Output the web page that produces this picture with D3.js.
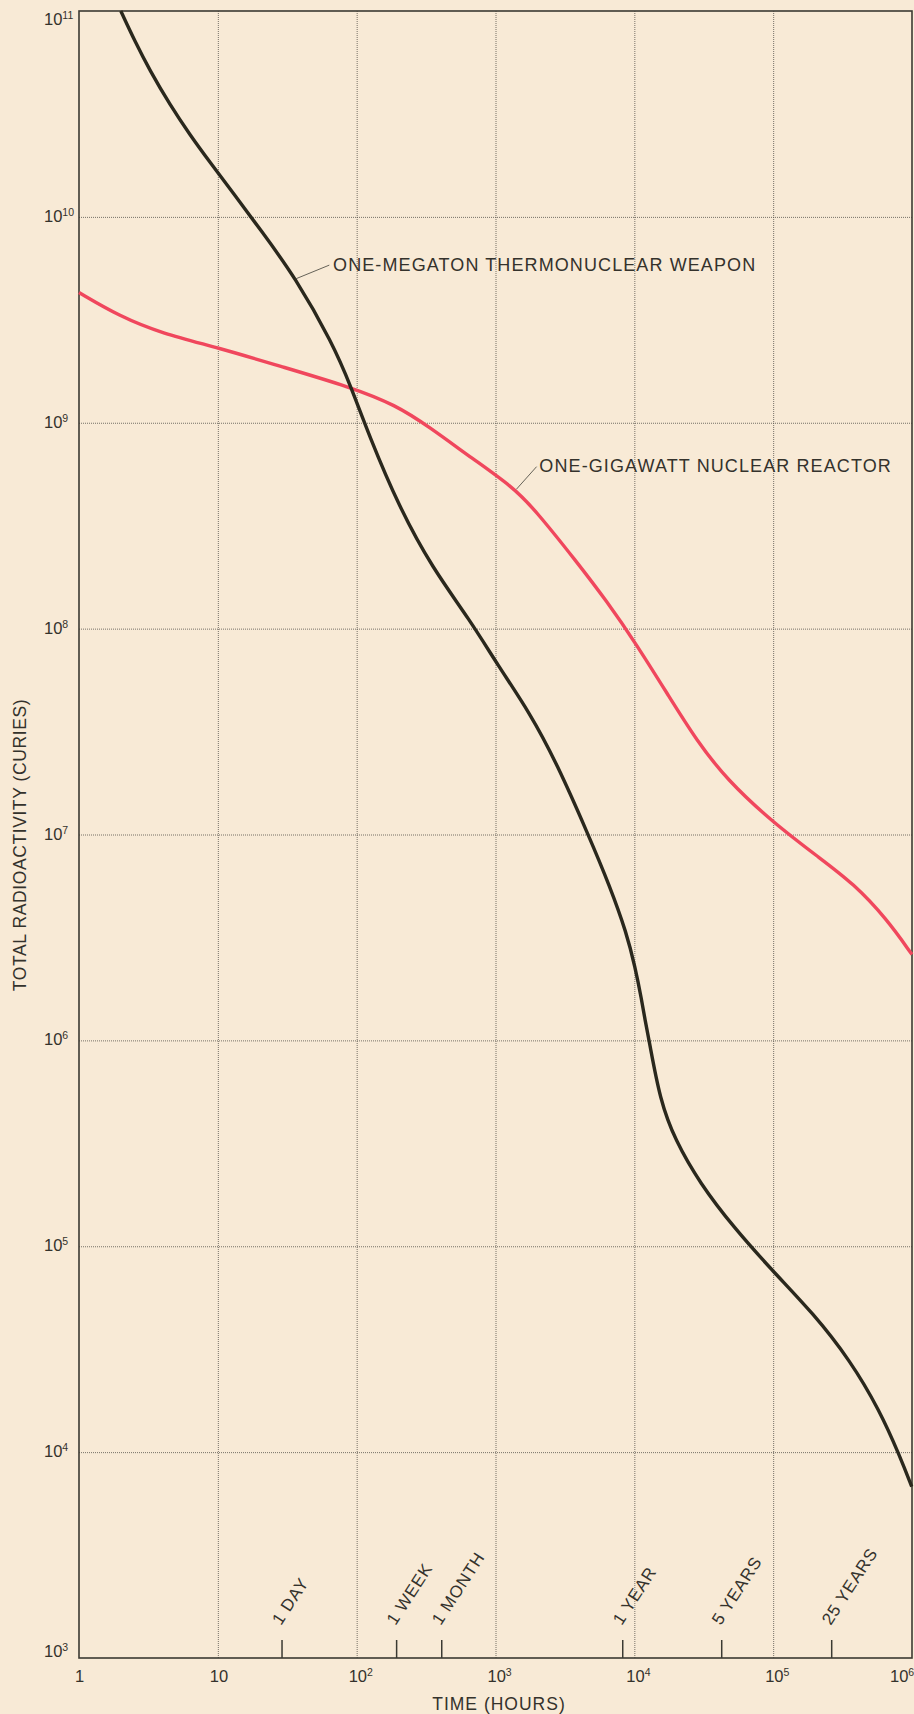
<!DOCTYPE html>
<html>
<head>
<meta charset="utf-8">
<script src="https://cdn.jsdelivr.net/npm/d3@7"></script>
<style>
  html, body { margin: 0; padding: 0; background: #f8ead6; }
  svg { display: block; }
  text { font-family: "Liberation Sans", Arial, Helvetica, sans-serif; fill: #34322c; }
</style>
</head>
<body>
<div id="chart"></div>
<script>
// one-megaton thermonuclear weapon: hours after detonation / curies
const weaponHours = [2.0, 2.53, 3.25, 4.52, 6.3, 8.78, 13.3, 20.1, 36.4, 66.8, 90.6, 123, 202,
  351, 655, 1038, 1774, 2761, 4667, 6683, 8810, 10110, 11300, 11930, 12820, 15310, 19630, 29720,
  51640, 100200, 194500, 357300, 583400, 820400, 995400];
const weaponCuries = [1e11, 7.11e10, 5.12e10, 3.5e10, 2.5e10, 1.84e10, 1.27e10, 8.73e9,
  5.05e9, 2.44e9, 1.51e9, 8.65e8, 3.9e8, 1.97e8, 1.1e8, 6.65e7, 3.88e7, 2.22e7, 9.95e6, 5.58e6,
  3.31e6, 2.28e6, 1.57e6, 1.26e6, 9.87e5, 5.13e5, 3.28e5, 2.02e5, 1.24e5, 7.52e4, 4.72e4, 2.8e4,
  1.6e4, 9.5e3, 6.8e3];

// one-gigawatt nuclear reactor: hours after shutdown / curies
const reactorHours = [1, 1.94, 3.98, 10.2, 27.5, 90.6, 191, 332, 681, 1318, 1914, 3846, 6324, 10230,
  18100, 28120, 46240, 100200, 217300, 377600, 657700, 1e6];
const reactorCuries = [4.29e9, 3.3e9, 2.71e9, 2.31e9, 1.89e9, 1.49e9, 1.22e9, 9.57e8, 6.7e8, 4.9e8,
  3.8e8, 2.11e8, 1.36e8, 8.5e7, 4.59e7, 2.86e7, 1.85e7, 1.14e7, 7.67e6, 5.79e6, 3.89e6, 2.61e6];

const xDecades = [1, 10, 1e2, 1e3, 1e4, 1e5, 1e6];
const yDecades = [1e3, 1e4, 1e5, 1e6, 1e7, 1e8, 1e9, 1e10, 1e11];

const markerLabels = ["1 DAY", "1 WEEK", "1 MONTH", "1 YEAR", "5 YEARS", "25 YEARS"];
const markerHours = [29, 194, 410, 8250, 42600, 264000];

const width = 914, height = 1714;
const margin = { top: 11, right: 2, bottom: 56, left: 79 };

const svg = d3.select("#chart")
  .append("svg")
  .attr("width", width)
  .attr("height", height);

svg.append("rect")
  .attr("width", width)
  .attr("height", height)
  .attr("fill", "#f8ead6");

const x = d3.scaleLog()
  .domain([1, 1e6])
  .range([margin.left, width - margin.right]);

const y = d3.scaleLog()
  .domain([1e3, 1e11])
  .range([height - margin.bottom, margin.top]);

const plotTop = y(1e11), plotBottom = y(1e3);
const plotLeft = x(1), plotRight = x(1e6);

// gridlines
svg.append("g")
  .attr("class", "grid-x")
  .attr("transform", `translate(0,${plotBottom})`)
  .call(d3.axisBottom(x).tickValues(xDecades.slice(1, -1)).tickSize(-(plotBottom - plotTop)).tickFormat(""))
  .call(g => g.select(".domain").remove());

svg.append("g")
  .attr("class", "grid-y")
  .attr("transform", `translate(${plotLeft},0)`)
  .call(d3.axisLeft(y).tickValues(yDecades.slice(1, -1)).tickSize(-(plotRight - plotLeft)).tickFormat(""))
  .call(g => g.select(".domain").remove());

svg.selectAll(".grid-x line, .grid-y line")
  .attr("stroke", "#54514a")
  .attr("stroke-width", 0.8)
  .attr("stroke-dasharray", "1,1");

// frame
svg.append("rect")
  .attr("x", plotLeft)
  .attr("y", plotTop)
  .attr("width", plotRight - plotLeft)
  .attr("height", plotBottom - plotTop)
  .attr("fill", "none")
  .attr("stroke", "#3b3a33")
  .attr("stroke-width", 1.6);

// tick labels written as powers of ten
function powerLabel(sel, v) {
  const p = Math.round(Math.log10(v));
  if (p === 0) { sel.append("tspan").text("1"); return; }
  if (p === 1) { sel.append("tspan").text("10"); return; }
  sel.append("tspan").text("10");
  sel.append("tspan").attr("dy", -6).attr("font-size", 10.5).text(p);
}

svg.append("g")
  .selectAll("text")
  .data(yDecades)
  .join("text")
  .attr("x", 44)
  .attr("y", d => y(d) + (d === 1e11 ? 14 : d === 1e3 ? -1 : 5))
  .attr("font-size", 16.5)
  .each(function (d) { powerLabel(d3.select(this), d); });

svg.append("g")
  .selectAll("text")
  .data(xDecades)
  .join("text")
  .attr("x", d => d === 1 ? x(d) - 4 : d === 1e6 ? x(d) - 22 : x(d) - 8)
  .attr("y", plotBottom + 24)
  .attr("font-size", 16.5)
  .each(function (d) { powerLabel(d3.select(this), d); });

// time markers along the bottom
svg.append("g")
  .selectAll("line")
  .data(markerHours)
  .join("line")
  .attr("x1", d => x(d))
  .attr("x2", d => x(d))
  .attr("y1", plotBottom)
  .attr("y2", plotBottom - 18)
  .attr("stroke", "#3b3a33")
  .attr("stroke-width", 1.5);

svg.append("g")
  .selectAll("text")
  .data(markerHours)
  .join("text")
  .attr("transform", d => `translate(${x(d) - 1},${plotBottom - 32}) rotate(-57)`)
  .attr("font-size", 17)
  .attr("letter-spacing", 0.8)
  .text((d, i) => markerLabels[i]);

// curves
const line = d3.line()
  .x(d => x(d[0]))
  .y(d => y(d[1]))
  .curve(d3.curveBasis);

svg.append("path")
  .datum(reactorHours.map((h, i) => [h, reactorCuries[i]]))
  .attr("fill", "none")
  .attr("stroke", "#f0475d")
  .attr("stroke-width", 3.4)
  .attr("d", line);

svg.append("path")
  .datum(weaponHours.map((h, i) => [h, weaponCuries[i]]))
  .attr("fill", "none")
  .attr("stroke", "#2a281d")
  .attr("stroke-width", 3.4)
  .attr("d", line);

// curve labels with leader lines
const notes = [
  { text: "ONE-MEGATON THERMONUCLEAR WEAPON", from: [36.4, 5.0e9], to: [63.5, 5.83e9], at: [67.6, 5.47e9] },
  { text: "ONE-GIGAWATT NUCLEAR REACTOR", from: [1413, 4.75e8], to: [1977, 6.12e8], at: [2070, 5.74e8] }
];

svg.append("g")
  .selectAll("line")
  .data(notes)
  .join("line")
  .attr("x1", d => x(d.from[0]))
  .attr("y1", d => y(d.from[1]))
  .attr("x2", d => x(d.to[0]))
  .attr("y2", d => y(d.to[1]))
  .attr("stroke", "#55524a")
  .attr("stroke-width", 0.9);

svg.append("g")
  .selectAll("text")
  .data(notes)
  .join("text")
  .attr("x", d => x(d.at[0]))
  .attr("y", d => y(d.at[1]))
  .attr("font-size", 18)
  .attr("letter-spacing", 1.1)
  .text(d => d.text);

// axis titles
svg.append("text")
  .attr("x", 499)
  .attr("y", 1710)
  .attr("text-anchor", "middle")
  .attr("font-size", 17.5)
  .attr("letter-spacing", 1)
  .text("TIME (HOURS)");

svg.append("text")
  .attr("transform", "translate(26,845) rotate(-90)")
  .attr("text-anchor", "middle")
  .attr("font-size", 17.5)
  .attr("letter-spacing", 0.6)
  .text("TOTAL RADIOACTIVITY (CURIES)");
</script>
</body>
</html>
